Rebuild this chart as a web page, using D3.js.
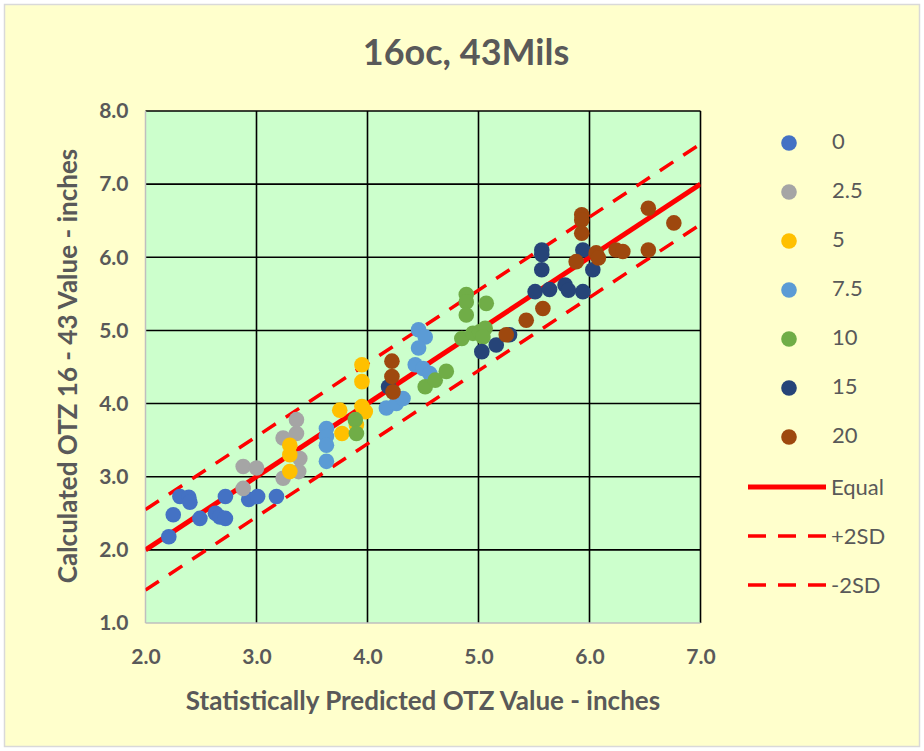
<!DOCTYPE html>
<html><head><meta charset="utf-8">
<script src="https://cdn.jsdelivr.net/npm/d3@7"></script>
<style>html,body{margin:0;padding:0;background:#fff;}svg{display:block;}</style>
</head><body>
<svg id="chart" width="924" height="751"></svg>
<script>
// ---- data ----
const seriesNames = ["0", "2.5", "5", "7.5", "10", "15", "20"];
const seriesColors = ["#4472C4", "#A5A5A5", "#FFC000", "#5B9BD5", "#70AD47", "#264478", "#9E480E"];
const s0 = [[2.21,2.18],[2.25,2.48],[2.31,2.73],[2.39,2.72],[2.40,2.65],[2.49,2.43],[2.63,2.50],[2.67,2.45],[2.72,2.43],[2.72,2.73],[2.93,2.69],[3.01,2.73],[3.18,2.73]];
const s25 = [[2.88,3.14],[3.00,3.12],[2.88,2.84],[3.24,3.53],[3.36,3.78],[3.36,3.59],[3.39,3.25],[3.24,2.98],[3.38,3.07]];
const s5 = [[3.30,3.43],[3.30,3.30],[3.30,3.07],[3.95,4.53],[3.95,4.30],[3.95,3.96],[3.98,3.89],[3.75,3.91],[3.77,3.59],[3.90,3.71]];
const s75 = [[3.63,3.66],[3.63,3.55],[3.63,3.43],[3.63,3.21],[4.17,3.94],[4.26,4.00],[4.32,4.07],[4.46,5.01],[4.52,4.91],[4.46,4.76],[4.43,4.53],[4.50,4.48],[4.56,4.41]];
const s10 = [[3.89,3.78],[3.90,3.59],[4.52,4.23],[4.61,4.32],[4.71,4.44],[4.85,4.89],[4.89,5.49],[4.89,5.39],[4.89,5.21],[5.07,5.37],[4.95,4.96],[5.01,4.98],[5.06,5.03],[5.04,4.91]];
const s15 = [[4.19,4.23],[5.03,4.71],[5.16,4.80],[5.28,4.94],[5.51,5.53],[5.64,5.56],[5.78,5.62],[5.81,5.55],[5.94,5.53],[5.57,6.10],[5.57,6.04],[5.57,5.83],[5.94,6.10],[6.03,5.83]];
const s20 = [[4.22,4.58],[4.22,4.37],[4.23,4.16],[5.25,4.94],[5.43,5.14],[5.58,5.30],[5.93,6.58],[5.93,6.51],[5.93,6.33],[5.88,5.94],[6.06,6.06],[6.08,5.99],[6.24,6.10],[6.30,6.08],[6.53,6.10],[6.53,6.67],[6.76,6.47]];
const seriesData = [s0, s25, s5, s75, s10, s15, s20];
const lineNames = ["Equal", "+2SD", "-2SD"];
const lineOffsets = [0, 0.55, -0.55];
const xTicks = [2, 3, 4, 5, 6, 7];
const yTicks = [1, 2, 3, 4, 5, 6, 7, 8];
const titleText = "16oc, 43Mils";
const xTitle = "Statistically Predicted OTZ Value - inches";
const yTitle = "Calculated OTZ 16 - 43 Value - inches";

// ---- drawing ----
const svg = d3.select("#chart");
const FONT = "Lato, 'Open Sans', 'DejaVu Sans', sans-serif";
const TXT = "#595959";

svg.append("rect").attr("x", 0).attr("y", 0).attr("width", 924).attr("height", 751).attr("fill", "#ffffff");
svg.append("rect").attr("x", 4.5).attr("y", 4.5).attr("width", 915).attr("height", 742)
  .attr("fill", "#FFFFCC").attr("stroke", "#D9D9D9").attr("stroke-width", 1.5);

const x = d3.scaleLinear().domain([2, 7]).range([145.5, 700.5]);
const y = d3.scaleLinear().domain([1, 8]).range([623, 111]);

svg.append("rect").attr("x", x(2)).attr("y", y(8)).attr("width", x(7) - x(2)).attr("height", y(1) - y(8))
  .attr("fill", "#CCFFCC");

// gridlines
const grid = svg.append("g");
grid.selectAll("line.h").data(yTicks.filter(d => d > 1)).join("line")
  .attr("x1", x(2)).attr("x2", x(7)).attr("y1", d => y(d)).attr("y2", d => y(d))
  .attr("stroke", "#000").attr("stroke-width", 1.6);
grid.selectAll("line.v").data(xTicks.filter(d => d > 2)).join("line").attr("class", "v")
  .attr("y1", y(1)).attr("y2", y(8)).attr("x1", d => x(d)).attr("x2", d => x(d))
  .attr("stroke", "#000").attr("stroke-width", 1.6);
svg.append("line").attr("x1", x(2)).attr("x2", x(7)).attr("y1", y(1)).attr("y2", y(1)).attr("stroke", "#BFBFBF").attr("stroke-width", 1.5);
svg.append("line").attr("x1", x(2)).attr("x2", x(2)).attr("y1", y(1)).attr("y2", y(8)).attr("stroke", "#BFBFBF").attr("stroke-width", 1.5);

// axes labels via d3 axes
const xAxis = svg.append("g").attr("transform", `translate(0,${y(1)})`)
  .call(d3.axisBottom(x).tickValues(xTicks).tickFormat(d3.format(".1f")).tickSize(0).tickPadding(26));
xAxis.select(".domain").remove();
xAxis.selectAll("text").attr("font-family", FONT).attr("font-weight", "bold").attr("font-size", 21).attr("fill", TXT);
const yAxis = svg.append("g").attr("transform", `translate(${x(2)},0)`)
  .call(d3.axisLeft(y).tickValues(yTicks).tickFormat(d3.format(".1f")).tickSize(0).tickPadding(17));
yAxis.select(".domain").remove();
yAxis.selectAll("text").attr("font-family", FONT).attr("font-weight", "bold").attr("font-size", 21).attr("fill", TXT);

svg.append("clipPath").attr("id", "plotclip").append("rect")
  .attr("x", x(2)).attr("y", y(8)).attr("width", x(7) - x(2)).attr("height", y(1) - y(8));

const lineGen = d3.line().x(d => x(d[0])).y(d => y(d[1]));
const lg = svg.append("g").attr("clip-path", "url(#plotclip)");

seriesData.forEach((data, i) => {
  svg.append("g").selectAll("circle").data(data).join("circle")
    .attr("cx", d => x(d[0])).attr("cy", d => y(d[1])).attr("r", 7.8)
    .attr("fill", seriesColors[i]);
});

lineOffsets.forEach((off, i) => {
  const pts = [[2, 2 + off], [7, 7 + off]];
  lg.append("path").datum(pts).attr("d", lineGen).attr("fill", "none")
    .attr("stroke", "#FF0000").attr("stroke-width", i === 0 ? 5 : 3.5)
    .attr("stroke-dasharray", i === 0 ? null : "16,12");
});

// titles
svg.append("text").attr("x", 466).attr("y", 52).attr("dy", "0.35em").attr("text-anchor", "middle")
  .attr("font-family", FONT).attr("font-weight", "bold").attr("font-size", 36).attr("fill", TXT).text(titleText);
svg.append("text").attr("x", 423).attr("y", 701).attr("dy", "0.35em").attr("text-anchor", "middle")
  .attr("font-family", FONT).attr("font-weight", "bold").attr("font-size", 26).attr("fill", TXT).text(xTitle);
svg.append("text").attr("transform", "translate(68,366) rotate(-90)").attr("dy", "0.35em").attr("text-anchor", "middle")
  .attr("font-family", FONT).attr("font-weight", "bold").attr("font-size", 26).attr("fill", TXT).text(yTitle);

// legend
const legend = svg.append("g");
seriesNames.forEach((name, i) => {
  const ly = 143 + i * 49;
  legend.append("circle").attr("cx", 789).attr("cy", ly).attr("r", 7.8).attr("fill", seriesColors[i]);
  legend.append("text").attr("x", 832).attr("y", ly - 2).attr("dy", "0.35em").attr("font-family", FONT).attr("font-size", 22).attr("fill", TXT).text(name);
});
lineNames.forEach((name, i) => {
  const ly = 487 + i * 49;
  legend.append("line").attr("x1", 748).attr("x2", 826).attr("y1", ly).attr("y2", ly)
    .attr("stroke", "#FF0000").attr("stroke-width", i === 0 ? 5 : 3.5)
    .attr("stroke-dasharray", i === 0 ? null : "18,12");
  legend.append("text").attr("x", 831).attr("y", ly).attr("dy", "0.35em").attr("font-family", FONT).attr("font-size", 22).attr("fill", TXT).text(name);
});
</script>
</body></html>
